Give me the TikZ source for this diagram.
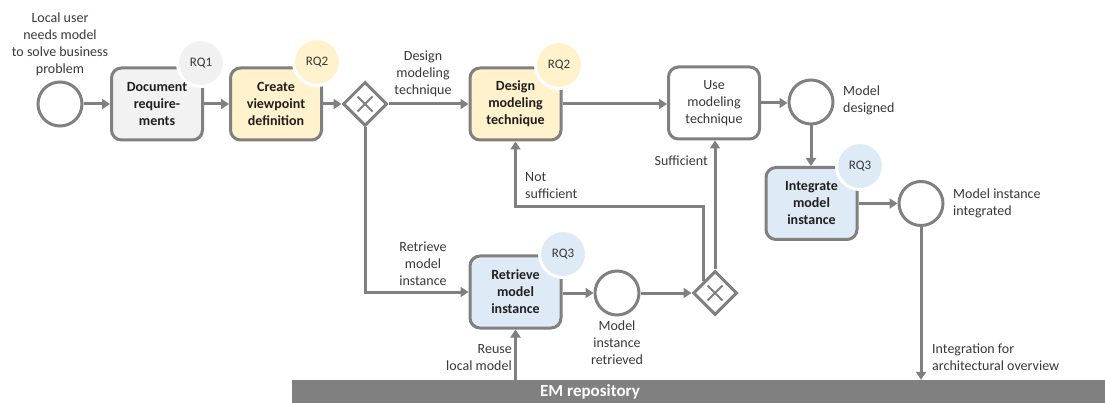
\documentclass[tikz,border=0pt]{standalone}
\usepackage{fontspec}
\setmainfont{Carlito}
\usetikzlibrary{arrows.meta,shapes.geometric}
\definecolor{lineg}{HTML}{808080}
\definecolor{txt}{HTML}{383838}
\definecolor{txtdark}{HTML}{1F1F1F}
\definecolor{grayfill}{HTML}{F2F2F2}
\definecolor{rqgray}{HTML}{F1F1F1}
\definecolor{yelfill}{HTML}{FFF2CC}
\definecolor{rqyel}{HTML}{FFF2CC}
\definecolor{bluefill}{HTML}{DEEBF7}
\definecolor{rqblue}{HTML}{DEEBF7}
\begin{document}
\begin{tikzpicture}[x=1pt,y=-1pt,
  every node/.style={font=\fontsize{14}{17}\selectfont, text=txt},
  task/.style={draw=lineg, line width=3pt, rounded corners=10pt,
    minimum width=91pt, minimum height=72pt, inner sep=2pt, align=center,
    font=\bfseries\fontsize{14}{17}\selectfont, text=txtdark},
  event/.style={circle, draw=lineg, line width=3pt, fill=white,
    minimum size=44pt, inner sep=0pt},
  gate/.style={diamond, aspect=1, draw=lineg, line width=3pt, fill=white,
    minimum size=44pt, inner sep=0pt},
  rq/.style={circle, fill=#1, draw=white, line width=3pt,
    minimum size=47pt, inner sep=0pt, font=\fontsize{13}{15}\selectfont},
  conn/.style={draw=lineg, line width=3pt,
    -{Triangle[length=8pt,width=10pt]}},
  lbl/.style={align=center, inner sep=0pt},
  cross/.style={draw=lineg, line width=1.8pt}
]
\useasboundingbox (0,0) rectangle (1105,403);

% repository bar
\node[fill=lineg, minimum width=813pt, minimum height=23pt, inner sep=0pt]
  (repo) at (698.5,391.5) {};
\node[font=\bfseries\fontsize{17}{20}\selectfont, text=white] (repolabel)
  at (590,392) {EM repository};

% events
\node[event] (start) at (60,104) {};
\node[event] (designed) at (811,102) {};
\node[event] (integrated) at (921,203.5) {};
\node[event] (retrieved) at (617,293) {};

% tasks
\node[task, fill=grayfill] (doc) at (157,104) {Document\\require-\\ments};
\node[task, fill=yelfill] (create) at (276,104) {Create\\viewpoint\\definition};
\node[task, fill=yelfill] (design) at (515.5,104) {Design\\modeling\\technique};
\node[task, fill=white, font=\fontsize{14}{17}\selectfont, text=txt]
  (use) at (714,103) {Use\\modeling\\technique};
\node[task, fill=bluefill] (integrate) at (811.5,203.5) {Integrate\\model\\instance};
\node[task, fill=bluefill] (retrieve) at (515.5,292) {Retrieve\\model\\instance};

% research question markers
\node[rq=rqgray] (rq1) at (201,63) {RQ1};
\node[rq=rqyel] (rq2a) at (317,62) {RQ2};
\node[rq=rqyel] (rq2b) at (559,65) {RQ2};
\node[rq=rqblue] (rq3a) at (860,166) {RQ3};
\node[rq=rqblue] (rq3b) at (563,254) {RQ3};

% gateways
\node[gate] (gw1) at (365,104) {};
\node[gate] (gw2) at (715,293) {};
\draw[cross] (gw1.center) ++(-7.5,-7.5) -- ++(15,15);
\draw[cross] (gw1.center) ++(7.5,-7.5) -- ++(-15,15);
\draw[cross] (gw2.center) ++(-7.5,-7.5) -- ++(15,15);
\draw[cross] (gw2.center) ++(7.5,-7.5) -- ++(-15,15);

% sequence flows
\draw[conn] (start.east) -- (start.east -| doc.west);
\draw[conn] (doc.east) -- (create.west);
\draw[conn] (create.east) -- (gw1.west);
\draw[conn] (gw1.east) -- (design.west);
\draw[conn] (design.east) -- (design.east -| use.west);
\draw[conn] (use.east) -- (use.east -| designed.west);
\draw[conn] (designed.south) -- (designed.south |- integrate.north);
\draw[conn] (integrate.east) -- (integrated.west);
\draw[conn] (integrated.south) -- (integrated.south |- repo.north);
\draw[conn] (gw1.south) |- (retrieve.west);
\draw[conn] (retrieve.south |- repo.north) -- (retrieve.south);
\draw[conn] (retrieve.east |- retrieved.west) -- (retrieved.west);
\draw[conn] (retrieved.east) -- (gw2.west);
\draw[conn] (gw2.north) -- (gw2.north |- use.south);
\coordinate (nsbend) at (600,207);
\draw[conn] (gw2.north west) |- (nsbend) -| (design.south);

% labels
\node[lbl] (lstart) at (60,44) {Local user\\needs model\\to solve business\\problem};
\node[lbl] (ldesign) at (423,74) {Design\\modeling\\technique};
\node[lbl, align=left, anchor=west] (ldesigned) at (843,100.5) {Model\\designed};
\node[lbl, align=left, anchor=west] (lintegrated) at (953,203.5) {Model instance\\integrated};
\node[lbl, align=left, anchor=west] (loverview) at (932,357.5) {Integration for\\architectural overview};
\node[lbl] (lretrieve) at (423,264) {Retrieve\\model\\instance};
\node[lbl, align=right, anchor=east] (lreuse) at (512,357.5) {Reuse\\local model};
\node[lbl] (lretrieved) at (617,343) {Model\\instance\\retrieved};
\node[lbl, anchor=east] (lsuff) at (708,161) {Sufficient};
\node[lbl, align=left, anchor=west] (lnotsuff) at (525,185.5) {Not\\sufficient};
\end{tikzpicture}
\end{document}
